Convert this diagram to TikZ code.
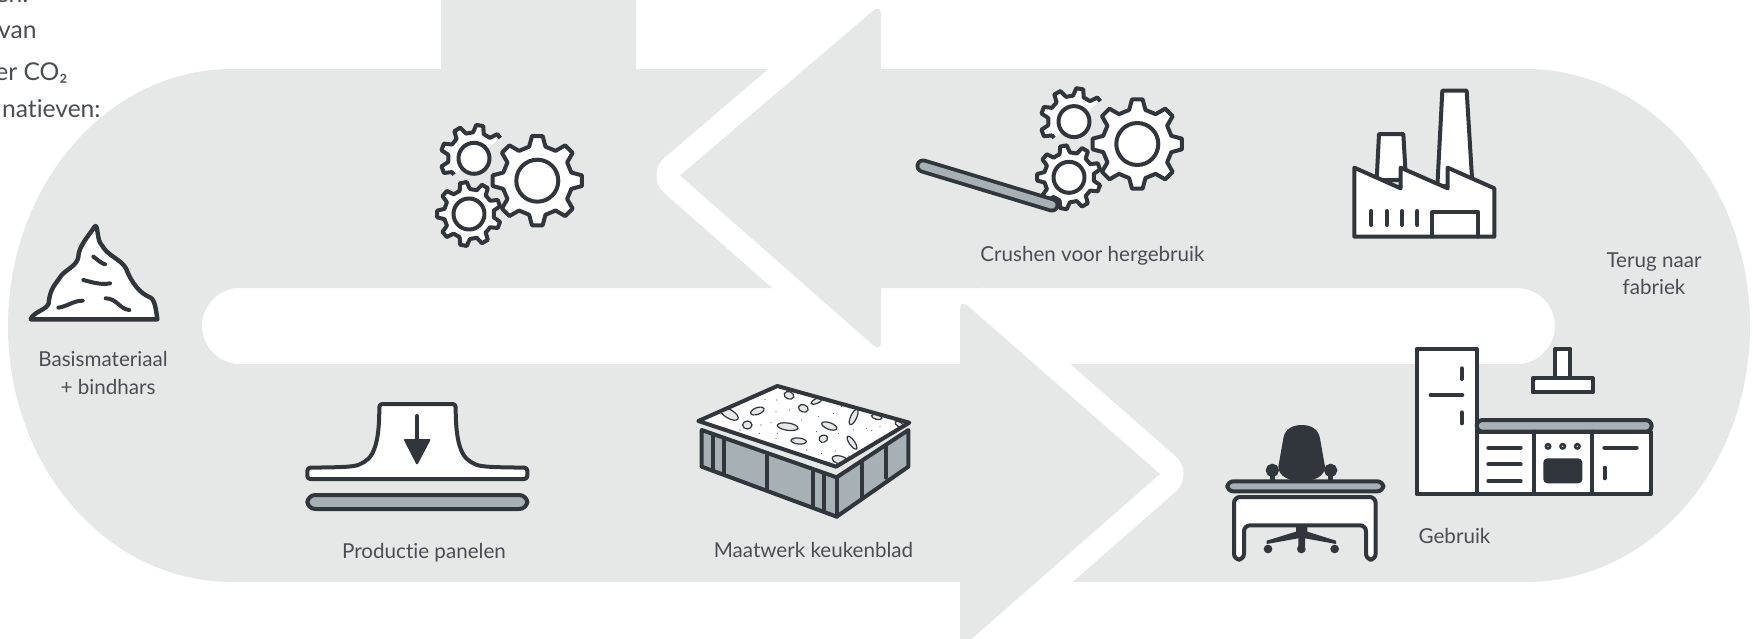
\documentclass[tikz,border=0pt]{standalone}
\usepackage{fontspec}
\setmainfont{Lato}[Ligatures=NoCommon]
\definecolor{bandgray}{HTML}{E6E8E7}
\definecolor{ink}{HTML}{31363C}
\definecolor{steel}{HTML}{A6B0B5}
\definecolor{labelc}{HTML}{4A4E54}
\tikzset{
  ln/.style={draw=ink,line width=2pt,line join=round,line cap=round},
  wf/.style={ln,fill=white},
  gf/.style={ln,fill=steel},
  bf/.style={draw=ink,line width=1pt,fill=ink,line join=round},
  stone/.style={draw=ink,line width=0.6pt,fill=bandgray},
  lab/.style={font=\fontsize{10.3pt}{12pt}\selectfont,text=labelc,inner sep=0pt,anchor=center},
  cut/.style={font=\fontsize{12.3pt}{14pt}\selectfont,text=labelc,inner sep=0pt,anchor=base east},
}
% gear: cx cy outer root teeth rotation
\newcommand{\gearpath}[6]{%
  \pgfmathsetmacro{\stp}{360/#5}%
  \pgfmathtruncatemacro{\nn}{#5-1}%
  \def\gpth{}%
  \foreach \k [count=\c from 0] in {0,...,\nn}{%
    \pgfmathsetmacro{\a}{#6+\k*\stp}%
    \pgfmathsetmacro{\aa}{\a-0.30*\stp}\pgfmathsetmacro{\ab}{\a-0.15*\stp}%
    \pgfmathsetmacro{\ac}{\a+0.15*\stp}\pgfmathsetmacro{\ad}{\a+0.30*\stp}%
    \xdef\gpth{\gpth\ifnum\c>0 -- \fi ({#1+#4*cos(\aa)},{#2+#4*sin(\aa)}) -- ({#1+#3*cos(\ab)},{#2+#3*sin(\ab)}) -- ({#1+#3*cos(\ac)},{#2+#3*sin(\ac)}) -- ({#1+#4*cos(\ad)},{#2+#4*sin(\ad)})}%
  }%
}
\newcommand{\gearset}[2]{%
\begin{scope}[shift={(#1,#2)}]
  % big gear
  \gearpath{137.3}{90.7}{45}{35}{8}{-90}
  \draw[wf] \gpth -- cycle;
  \draw[wf] (137.3,90.7) circle (21);
  % top small gear: only the half on the upper left is outlined
  \gearpath{74}{68.3}{33.5}{26}{9}{-80}
  \begin{scope}
    \clip (104,45) -- (46,91) -- (-20,91) -- (-20,10) -- (104,10) -- cycle;
    \fill[white] \gpth -- cycle;
    \draw[ln] \gpth -- cycle;
  \end{scope}
  \draw[wf] (74,68.3) circle (15.5);
  % bottom small gear
  \gearpath{69}{124}{32}{25}{9}{-100}
  \draw[wf] \gpth -- cycle;
  \draw[wf] (69,124) circle (15.5);
\end{scope}}
\begin{document}
\begin{tikzpicture}[x=0.5pt,y=-0.5pt]
\useasboundingbox (0,0) rectangle (1753,638);
\clip (0,0) rectangle (1753,638);
\fill[white] (0,0) rectangle (1753,638);
% grey loop
\fill[bandgray,even odd rule]
  (232,69) -- (1526,69) .. controls (1650,69) and (1750,184) .. (1750,326)
  .. controls (1750,468) and (1650,582) .. (1526,582) -- (232,582)
  .. controls (108,582) and (8,468) .. (8,326)
  .. controls (8,184) and (108,69) .. (232,69) -- cycle
  (240,288) -- (1517,288) arc[start angle=-90,end angle=90,x radius=38,y radius=38]
  -- (240,364) arc[start angle=90,end angle=270,x radius=38,y radius=38] -- cycle;
\fill[bandgray] (441,0) rectangle (636,70);
% upper arrow (pointing left)
\coordinate (uat) at (680,175.5);
\coordinate (uatop) at (875,9);
\coordinate (uabot) at (875,347);
\draw[white,line width=23.5pt,line join=round] (uatop) -- (uat) -- (uabot);
\fill[bandgray] (uat) [rounded corners=5pt] -- (881,4) -- (881,352) [sharp corners] -- cycle;
% lower arrow (pointing right)
\coordinate (lat) at (1160,474);
\coordinate (latop) at (967,305);
\coordinate (labot) at (967,643);
\draw[white,line width=23.5pt,line join=round] (latop) -- (lat) -- (labot);
\fill[bandgray] (lat) [rounded corners=5pt] -- (960,299) -- (960,649) [sharp corners] -- cycle;

% pile
\begin{scope}[shift={(0,210)},scale=1/3]
  \draw[wf,line width=2.2pt] (92,328) .. controls (100,305) and (140,300) .. (146,280)
    .. controls (150,235) and (165,225) .. (185,195) .. controls (205,175) and (232,165) .. (235,140)
    .. controls (235,110) and (268,75) .. (285,48) .. controls (295,45) and (290,90) .. (305,105)
    .. controls (325,140) and (360,145) .. (378,175) .. controls (395,220) and (420,250) .. (450,262)
    .. controls (465,268) and (468,300) .. (472,328) -- cycle;
  \draw[ln] (280,140) .. controls (295,150) and (300,158) .. (315,163);
  \draw[ln] (250,210) .. controls (280,218) and (305,225) .. (330,220);
  \draw[ln] (175,293) .. controls (200,290) and (220,272) .. (248,272);
  \draw[ln] (317,265) .. controls (350,265) and (360,298) .. (388,300);
\end{scope}

% gears
\gearset{400}{90}
\gearset{1000}{53.3}
% belt
\coordinate (ba) at (923,166);
\coordinate (bb) at (1052,205);
\draw[ink,line width=7.5pt,line cap=round] (ba) -- (bb);
\draw[steel,line width=3.7pt,line cap=round] (ba) -- (bb);

% factory
\begin{scope}[shift={(1330,70)},scale=1/3]
  \draw[wf] (140,330) -- (147,192) -- (220,192) -- (228,330) -- cycle;
  \draw[wf] (322,350) -- (337,62) -- (410,62) -- (427,340) -- cycle;
  \draw[wf] (73,293) -- (212,355) -- (212,293) -- (353,355) -- (353,293) -- (493,355) -- (493,500) -- (73,500) -- cycle;
  \draw[ln] (307,500) -- (307,427) -- (445,427) -- (445,500);
  \foreach \x in {124,170,216,262} \draw[ln] (\x,423) -- (\x,465);
\end{scope}

% press
\begin{scope}[shift={(290,380)},scale=1/3]
  \draw[wf,rounded corners=1.5pt] (52,297) -- (52,263) .. controls (130,262) and (190,262) .. (215,250)
    .. controls (260,225) and (268,160) .. (268,72) -- (497,72)
    .. controls (497,160) and (505,225) .. (550,250)
    .. controls (575,262) and (640,262) .. (712,263) -- (712,297) -- cycle;
  \draw[ln] (381,108) -- (381,180);
  \fill[ink,draw=ink,line width=1pt,line join=round] (345,180) -- (418,180) -- (381,250) -- cycle;
  \draw[gf,rounded corners=4pt] (52,345) rectangle (712,387);
\end{scope}

% countertop block
\begin{scope}[shift={(690,370)},scale=1/3]
  \draw[gf] (35,180) -- (35,290) -- (440,440) -- (655,290) -- (655,180) -- (440,322) -- cycle;
  \draw[ln] (440,322) -- (440,440);
  \draw[ln] (70,195) -- (70,302);
  \draw[ln] (103,205) -- (103,313);
  \draw[ln] (230,258) -- (230,358);
  \draw[ln] (370,305) -- (370,413);
  \draw[ln] (403,315) -- (403,425);
  \draw[ln] (515,280) -- (515,382);
  \draw[ln] (588,230) -- (588,323);
  \fill[white] (25,153) -- (262,48) -- (658,158) -- (438,290) -- cycle;
  \begin{scope}
    \clip (25,153) -- (262,48) -- (658,158) -- (438,290) -- cycle;
    \foreach \x/\y/\rx/\ry/\a in {118/132/30/13/-30,202/123/21/10/20,172/165/14/12/0,297/76/15/11/-20,340/115/15/11/-20,380/93/18/7/25,293/170/31/11/-8,418/168/24/10/-20,326/213/23/9/-5,400/206/13/11/20,491/141/25/9/65,486/218/23/8/-55,560/141/16/7/-15,628/163/14/7/-30,450/270/24/12/-15}
      \draw[stone,shift={(\x,\y)},rotate=\a] (0,0) ellipse [x radius=\rx,y radius=\ry];
    \foreach \x/\y in {225/88,260/90,258/125,213/165,243/158,208/190,262/190,298/120,335/150,380/185,385/140,430/130,455/110,445/190,350/240,395/250,437/243,490/180,530/175,545/182,570/170,475/258,310/210,258/205,150/180,480/90,520/125}
      \fill[ink] (\x,\y) circle (1.6);
  \end{scope}
  \draw[ln] (25,153) -- (262,48) -- (658,158) -- (438,290) -- cycle;
\end{scope}

% desk
\begin{scope}[shift={(1210,410)},scale=1/3]
  \draw[bf] (187,181) circle (17);
  \draw[bf] (362,181) circle (17);
  \draw[ink,line width=2.5pt] (187,195) -- (187,216);
  \draw[ink,line width=2.5pt] (362,195) -- (362,216);
  \fill[ink] (205,170) -- (220,85) .. controls (225,55) and (250,45) .. (275,45)
    .. controls (300,45) and (325,55) .. (330,85) -- (345,170)
    .. controls (345,200) and (310,214) .. (275,214)
    .. controls (240,214) and (205,200) .. (205,170) -- cycle;
  \draw[gf,rounded corners=3pt] (52,214) rectangle (520,244);
  \draw[wf,rounded corners=3pt] (72,261) -- (72,449) -- (102,449) -- (102,346) -- (468,346) -- (468,449) -- (497,449) -- (497,261) -- cycle;
  \fill[ink,line join=round] (258,345) -- (292,345) -- (292,365) -- (378,392) -- (378,402) -- (285,385) -- (285,410) -- (265,410) -- (265,385) -- (170,402) -- (170,392) -- (258,365) -- cycle;
  \foreach \x in {174,274,374} \fill[ink] (\x,417) circle (13);
\end{scope}

% kitchen
\begin{scope}[shift={(1400,335)},scale=1/3]
  \draw[wf] (230,290) rectangle (752,477);
  \draw[wf] (50,42) rectangle (230,477);
  \draw[gf,rounded corners=3pt] (230,255) -- (755,255) -- (755,290) -- (230,290) -- cycle;
  \draw[ln] (402,290) -- (402,477);
  \draw[ln] (577,290) -- (577,477);
  \draw[ln] (185,100) -- (185,132);
  \draw[ln] (185,232) -- (185,265);
  \draw[ln] (92,180) -- (187,180);
  \foreach \y in {338,388,438} \draw[ln] (265,\y) -- (362,\y);
  \draw[ln] (613,338) -- (710,338);
  \draw[ln] (614,398) -- (614,430);
  \fill[ink,rounded corners=2pt] (430,370) rectangle (547,445);
  \foreach \x in {444,488,532} \draw[draw=ink,line width=1.3pt,fill=white] (\x,334) circle (6.5);
  \draw[wf] (465,42) rectangle (511,130);
  \draw[wf] (398,130) rectangle (578,172);
\end{scope}

% labels
\node[lab] (l1) at (103,358.5) {Basismateriaal};
\node[lab] (l2) at (108,387) {+ bindhars};
\node[lab] (l3) at (424,553) {Productie panelen};
\node[lab] (l4) at (813.5,549.5) {Maatwerk keukenblad};
\node[lab] (l5) at (1092.5,255.5) {Crushen voor hergebruik};
\node[lab] (l6) at (1654,261.5) {Terug naar};
\node[lab] (l7) at (1654,286.5) {fabriek};
\node[lab] (l8) at (1454.5,535.5) {Gebruik};
% cropped paragraph
\node[cut] (c0) at (29,2) {en:};
\node[cut] (c1) at (37,38) {van};
\node[cut] (c2) at (68,80) {er CO₂};
\node[cut] (c3) at (101,117) {natieven:};
\end{tikzpicture}
\end{document}
